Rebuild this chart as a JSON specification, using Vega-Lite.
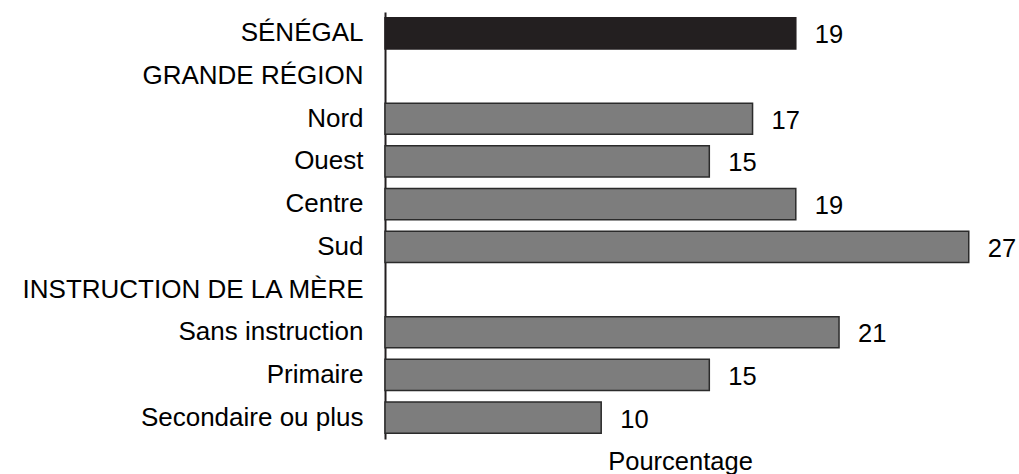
{
  "$schema": "https://vega.github.io/schema/vega-lite/v6.json",
  "autosize": {"type": "none"},
  "padding": {"left": 385, "top": 12, "right": 7, "bottom": 35},
  "width": 627,
  "height": 427,
  "background": "white",
  "config": {
    "view": {"stroke": null},
    "font": "Liberation Sans"
  },
  "data": {
    "values": [
      {"cat": "SÉNÉGAL", "value": 19, "kind": "total"},
      {"cat": "GRANDE RÉGION", "value": null, "kind": "header"},
      {"cat": "Nord", "value": 17, "kind": "sub"},
      {"cat": "Ouest", "value": 15, "kind": "sub"},
      {"cat": "Centre", "value": 19, "kind": "sub"},
      {"cat": "Sud\u2005", "value": 27, "kind": "sub"},
      {"cat": "INSTRUCTION DE LA MÈRE", "value": null, "kind": "header"},
      {"cat": "Sans instruction", "value": 21, "kind": "sub"},
      {"cat": "Primaire\u2005", "value": 15, "kind": "sub"},
      {"cat": "Secondaire ou plus", "value": 10, "kind": "sub"}
    ]
  },
  "encoding": {
    "y": {
      "field": "cat",
      "type": "nominal",
      "sort": null,
      "scale": {
        "domain": ["SÉNÉGAL", "GRANDE RÉGION", "Nord", "Ouest", "Centre", "Sud\u2005", "INSTRUCTION DE LA MÈRE", "Sans instruction", "Primaire\u2005", "Secondaire ou plus"],
        "paddingInner": 0.27,
        "paddingOuter": 0.135
      },
      "axis": {
        "title": null,
        "domain": true,
        "domainColor": "#231f20",
        "domainWidth": 2,
        "ticks": false,
        "tickSize": 0,
        "labelPadding": 22,
        "labelFontSize": 26,
        "labelColor": "#000000",
        "labelFont": "Liberation Sans",
        "labelLimit": 500
      }
    },
    "x": {
      "field": "value",
      "type": "quantitative",
      "scale": {"domain": [0, 29], "nice": false, "zero": true},
      "axis": {
        "title": "Pourcentage",
        "domain": false,
        "ticks": false,
        "labels": false,
        "grid": false,
        "titleFont": "Liberation Sans",
        "titleFontSize": 25.5,
        "titleFontWeight": "normal",
        "titleColor": "#000000",
        "titleX": 295,
        "titleY": 30,
        "titleAlign": "center",
        "titleBaseline": "alphabetic"
      }
    }
  },
  "layer": [
    {
      "transform": [{"filter": "datum.value != null"}],
      "mark": {"type": "bar", "strokeWidth": 1.5},
      "encoding": {
        "fill": {
          "field": "kind",
          "type": "nominal",
          "scale": {"domain": ["total", "sub"], "range": ["#231f20", "#7d7d7d"]},
          "legend": null
        },
        "stroke": {
          "field": "kind",
          "type": "nominal",
          "scale": {"domain": ["total", "sub"], "range": ["#231f20", "#2b2b2b"]},
          "legend": null
        }
      }
    },
    {
      "transform": [{"filter": "datum.value != null"}],
      "mark": {
        "type": "text",
        "align": "left",
        "baseline": "middle",
        "dx": 19,
        "dy": 2,
        "fontSize": 25.5,
        "font": "Liberation Sans",
        "color": "#000000"
      },
      "encoding": {
        "text": {"field": "value", "type": "quantitative"}
      }
    }
  ]
}
